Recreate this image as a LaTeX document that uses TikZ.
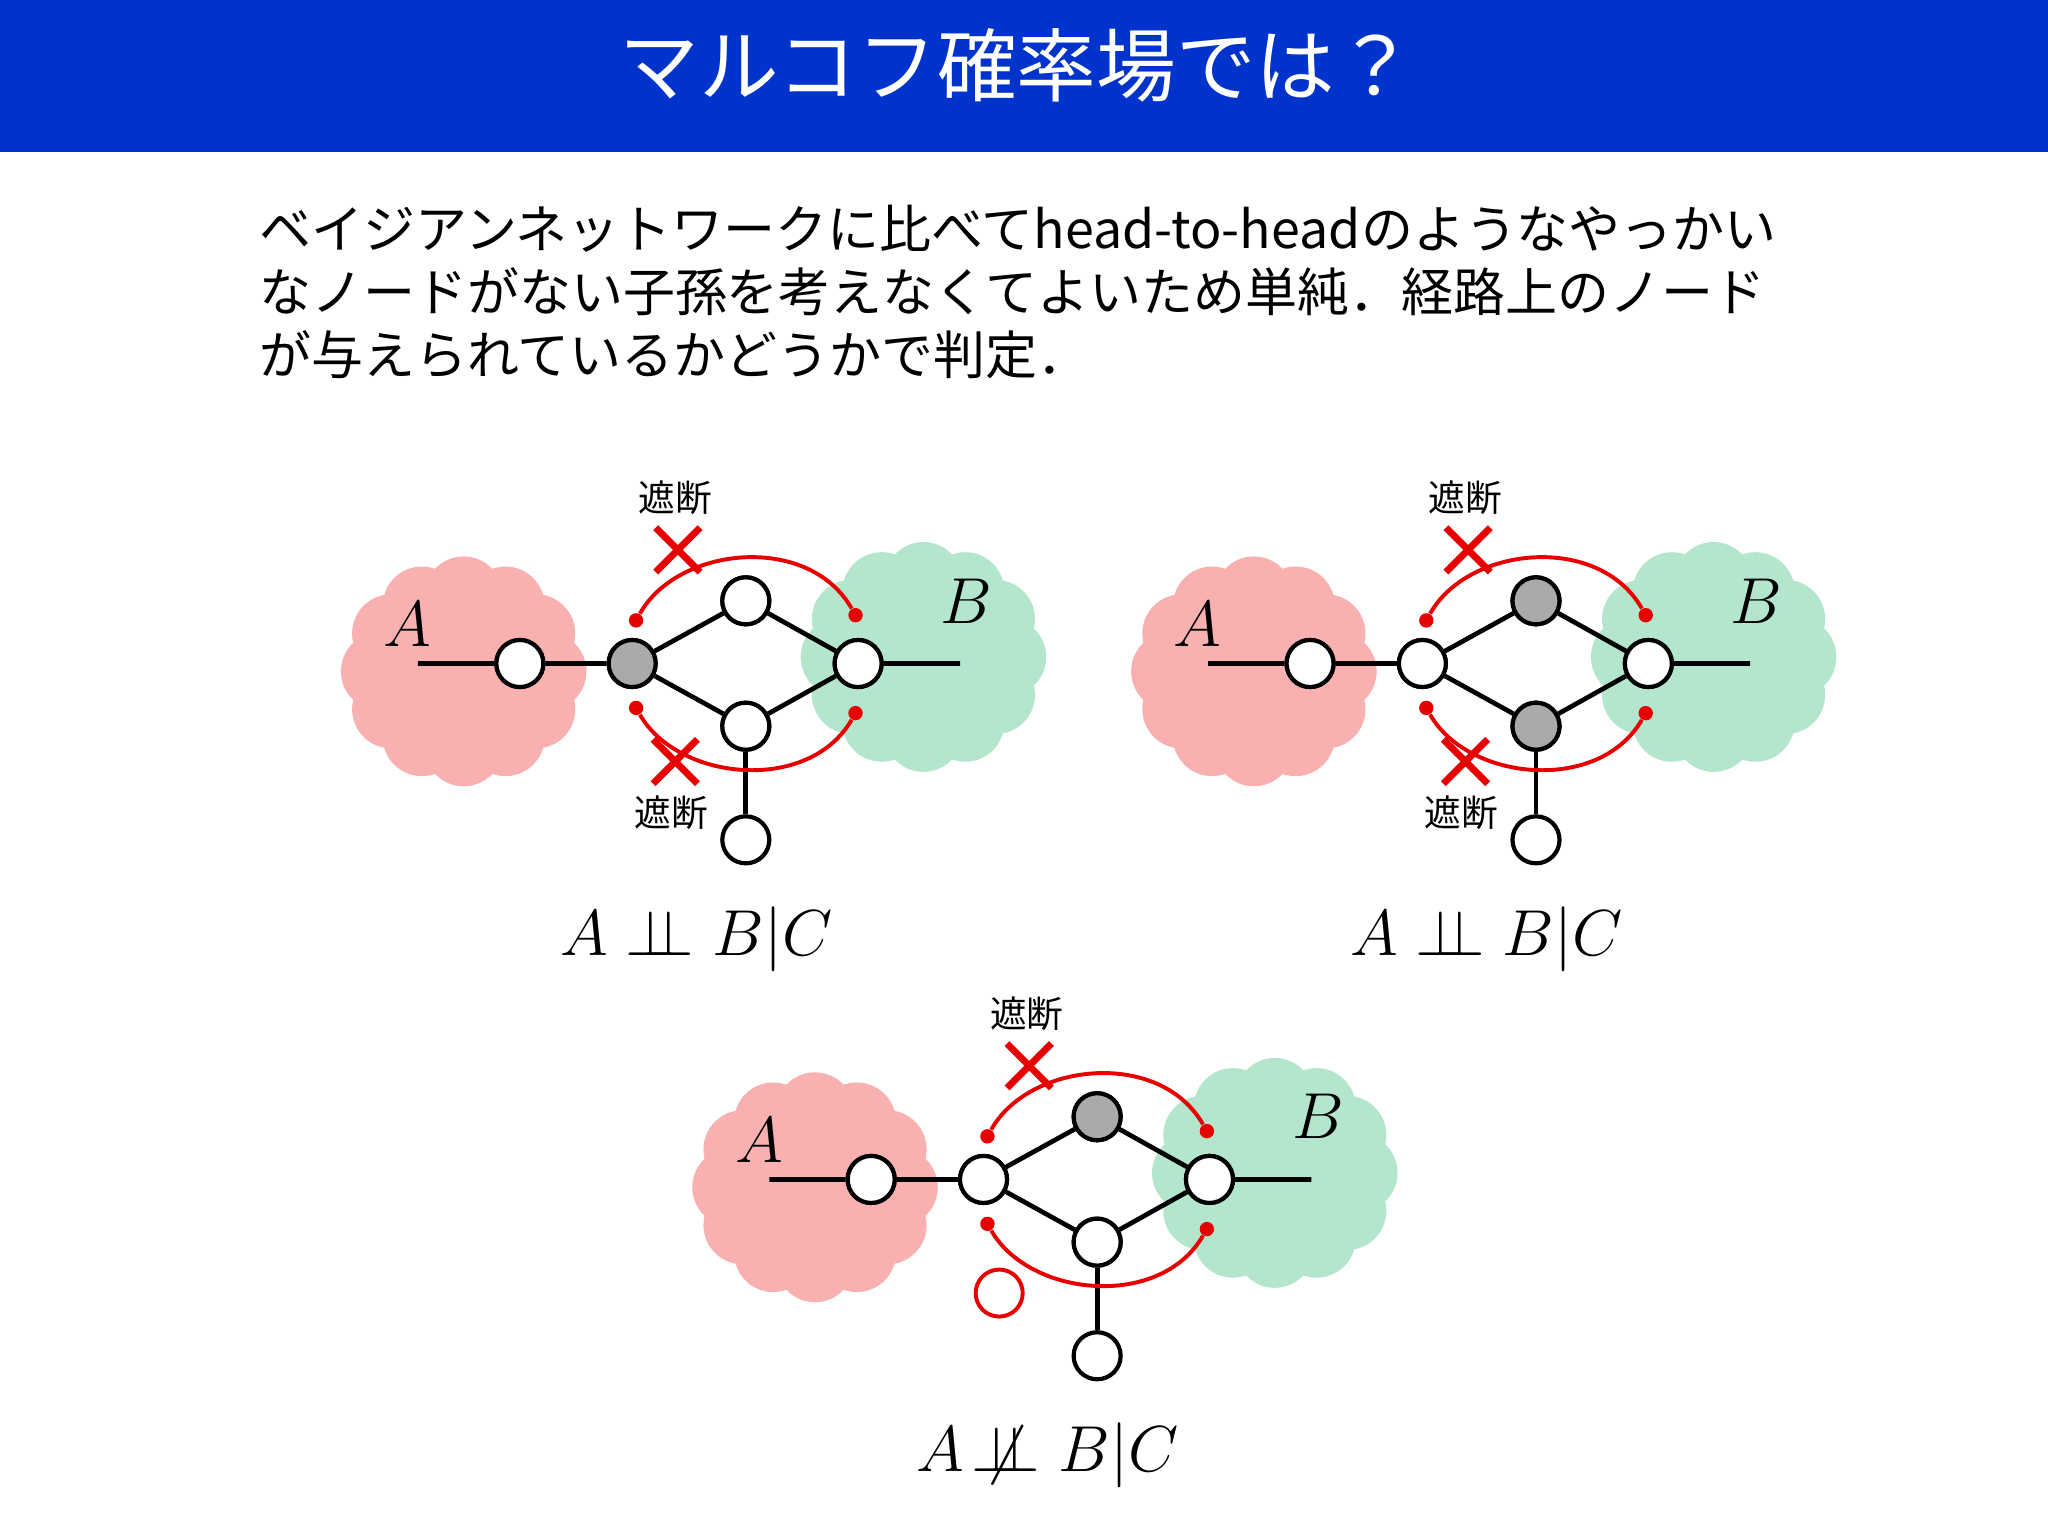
\documentclass[tikz,border=0pt]{standalone}
\usepackage{fontspec}
\setmainfont{Noto Sans CJK JP}
\newfontfamily\jp{Noto Sans CJK JP}
\usepackage{amsmath}
\definecolor{titleblue}{RGB}{0,51,204}
\definecolor{cloudA}{RGB}{248,176,176}
\definecolor{cloudB}{RGB}{180,230,205}
\definecolor{gnode}{RGB}{170,170,170}
\definecolor{xred}{RGB}{230,0,0}
\tikzset{
 vnode/.style={circle,draw=black,line width=1.6pt,minimum size=18pt,inner sep=0pt,fill=white},
 edge/.style={line width=1.8pt,black},
 redc/.style={line width=1.5pt,xred},
 rdot/.style={circle,fill=xred,inner sep=0pt,minimum size=5.5pt},
 xmark/.style={line width=2.6pt,xred},
 lab/.style={font=\jp\fontsize{14}{16}\selectfont},
 frm/.style={font=\fontsize{27}{30}\selectfont}
}
\usetikzlibrary{calc}
\newcommand{\mycloud}[3]{% x y color
 \fill[#3] (#1,#2) ellipse (70 and 62);
 \foreach \a in {0,30,...,330}{\fill[#3] ($(#1,#2)+(\a:64 and 58)$) circle (30);}
}
\newcommand{\mydiagram}[5]{% topfill cfill bottomfill lowermark(1=cross,0=circle) prefix
 \begin{scope}[name prefix=#5-]
 \mycloud{-129}{6}{cloudA}
 \mycloud{223}{-5}{cloudB}
 \node[font=\fontsize{25}{28}\selectfont] (la) at (-172,-30) {$A$};
 \node[font=\fontsize{25}{28}\selectfont] (lb) at (256,-48) {$B$};
 \coordinate (ea) at (-164,0);
 \coordinate (eb) at (251,0);
 \node[vnode] (a) at (-86,0) {};
 \node[vnode,fill=#2] (c) at (0,0) {};
 \node[vnode,fill=#1] (t) at (87,-48) {};
 \node[vnode,fill=#3] (b) at (87,48) {};
 \node[vnode] (r) at (173,0) {};
 \node[vnode] (bb) at (87,135) {};
 \draw[edge] (ea) -- (a) -- (c) -- (t) -- (r) -- (eb);
 \draw[edge] (c) -- (b) -- (r);
 \draw[edge] (b) -- (bb);
 \node[vnode,fill=#1] at (t) {};
 \node[vnode,fill=#3] at (b) {};
 \node[vnode,fill=#2] at (c) {};
 \node[vnode] at (r) {};
 \node[vnode] at (a) {};
 \node[rdot] (u1) at (3,-33) {};
 \node[rdot] (u2) at (171,-37) {};
 \node[rdot] (l1) at (3,34) {};
 \node[rdot] (l2) at (171,38) {};
 \draw[redc] (u1) .. controls (35,-90) and (135,-100) .. (u2);
 \draw[redc] (l1) .. controls (35,90) and (135,100) .. (l2);
 \draw[xmark] (18,-104) -- (52,-70) (18,-70) -- (52,-104);
 \node[lab] (s1) at (33,-127) {遮断};
 \ifnum#4=1
 \draw[xmark] (16,58) -- (50,92) (16,92) -- (50,58);
 \node[lab] (s2) at (30,114) {遮断};
 \else
 \draw[line width=1.5pt,xred] (12,87) circle (18);
 \fi
 \end{scope}
}
\begin{document}
\begin{tikzpicture}[x=0.5pt,y=-0.5pt]
\useasboundingbox (0,0) rectangle (1568,1176);
\fill[titleblue] (0,0) rectangle (1568,116);
\node[white,font=\jp\fontsize{30.5}{33}\selectfont] (title) at (779,50) {マルコフ確率場では？};
\node[anchor=north west,align=left,font=\jp\fontsize{19.9}{24}\selectfont,inner sep=0pt] (body) at (198,157)
{ベイジアンネットワークに比べてhead-to-headのようなやっかい\\
なノードがない子孫を考えなくてよいため単純．経路上のノード\\
が与えられているかどうかで判定．};
\begin{scope}[shift={(484,508)}]
 \mydiagram{white}{gnode}{white}{1}{d1}
 \node[frm] (f1) at (49,211) {$A \perp\!\!\!\perp B|C$};
\end{scope}
\begin{scope}[shift={(1089,508)}]
 \mydiagram{gnode}{white}{gnode}{1}{d2}
 \node[frm] (f2) at (49,211) {$A \perp\!\!\!\perp B|C$};
\end{scope}
\begin{scope}[shift={(753,903)}]
 \mydiagram{gnode}{white}{white}{0}{d3}
 \node[frm] (f3) at (49,211) {$A \not\!\perp\!\!\!\perp B|C$};
\end{scope}
\end{tikzpicture}
\end{document}
